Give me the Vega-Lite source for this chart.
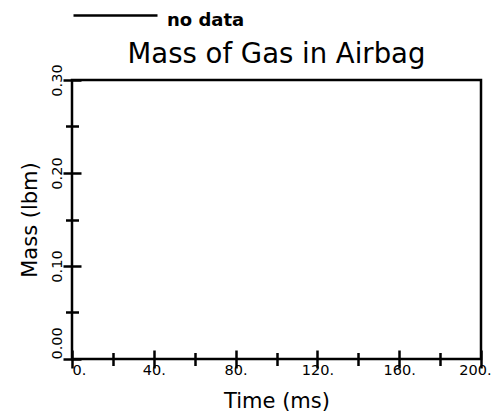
{
  "$schema": "https://vega.github.io/schema/vega-lite/v6.json",
  "width": 409,
  "height": 279,
  "autosize": {"type": "none"},
  "padding": {"left": 72, "top": 80, "right": 14, "bottom": 60},
  "background": "white",
  "title": {"text": "Mass of Gas in Airbag", "font": "DejaVu Sans", "fontSize": 27.5, "fontWeight": "normal", "color": "black", "frame": "group", "anchor": "middle", "baseline": "alphabetic", "offset": 0, "dy": 113},
  "config": {"view": {"stroke": "black", "strokeWidth": 2.5}},
  "data": {"values": [{"time": null, "mass": null, "series": "no data"}]},
  "layer": [
    {
      "mark": {"type": "line", "strokeWidth": 2.5},
      "encoding": {
        "x": {"field": "time", "type": "quantitative", "scale": {"domain": [0, 200], "nice": false, "zero": false},
          "axis": {"orient": "bottom", "values": [0, 40, 80, 120, 160, 200], "offset": -9, "tickSize": 18, "tickWidth": 2.5, "tickColor": "black", "domain": false, "grid": false,
            "labelExpr": "datum.value + '.'", "labelFont": "DejaVu Sans", "labelFontSize": 14.5, "labelColor": "black", "labelPadding": -5, "labelBaseline": "top",
            "labelAlign": {"condition": {"test": "datum.value == 0", "value": "left"}, "value": "center"},
            "labelOffset": {"condition": {"test": "datum.value == 200", "value": -6}, "value": 0},
            "labelFlush": false, "labelOverlap": false,
            "title": "Time (ms)", "titleFont": "DejaVu Sans", "titleFontSize": 21, "titleFontWeight": "normal", "titleColor": "black", "titlePadding": 14}},
        "y": {"field": "mass", "type": "quantitative", "scale": {"domain": [0, 0.3], "nice": false, "zero": false},
          "axis": {"orient": "left", "values": [0, 0.1, 0.2, 0.3], "offset": -9, "tickSize": 18, "tickWidth": 2.5, "tickColor": "black", "domain": false, "grid": false,
            "labelExpr": "format(datum.value, '.2f')", "labelFont": "DejaVu Sans", "labelFontSize": 14.5, "labelColor": "black", "labelAngle": -90, "labelPadding": 2, "labelBaseline": "alphabetic",
            "labelAlign": {"condition": {"test": "datum.value == 0", "value": "left"}, "value": "center"}, "labelFlush": false, "labelOverlap": false,
            "title": "Mass (lbm)", "titleFont": "DejaVu Sans", "titleFontSize": 21, "titleFontWeight": "normal", "titleColor": "black", "titlePadding": 9}},
        "color": {"field": "series", "type": "nominal", "scale": {"domain": ["no data"], "range": ["black"]},
          "legend": {"orient": "none", "legendX": 0, "legendY": -102.4, "title": null, "symbolType": "M-1,-0.133H1", "symbolSize": 7056, "symbolStrokeWidth": 2.5, "symbolStrokeColor": "black",
            "labelFont": "DejaVu Sans", "labelFontSize": 18, "labelFontWeight": "bold", "labelColor": "black", "labelOffset": 8, "padding": 0, "labelBaseline": "middle"}}
      }
    },
    {
      "mark": {"type": "line", "strokeWidth": 2.5},
      "encoding": {
        "x": {"field": "time", "type": "quantitative", "scale": {"domain": [0, 200], "nice": false, "zero": false},
          "axis": {"orient": "bottom", "values": [20, 60, 100, 140, 180], "offset": -6.5, "tickSize": 13, "tickWidth": 2.5, "tickColor": "black", "domain": false, "grid": false, "labels": false, "title": null}},
        "y": {"field": "mass", "type": "quantitative", "scale": {"domain": [0, 0.3], "nice": false, "zero": false},
          "axis": {"orient": "left", "values": [0.05, 0.15, 0.25], "offset": -6.5, "tickSize": 13, "tickWidth": 2.5, "tickColor": "black", "domain": false, "grid": false, "labels": false, "title": null}}
      }
    }
  ],
  "resolve": {"axis": {"x": "independent", "y": "independent"}}
}
